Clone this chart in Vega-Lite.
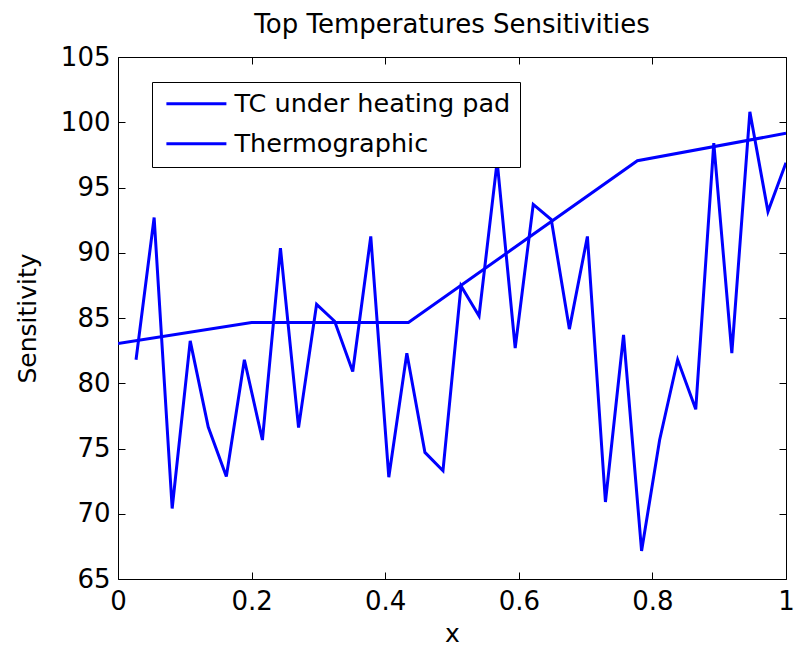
{
  "$schema": "https://vega.github.io/schema/vega-lite/v6.json",
  "autosize": {"type": "none"},
  "padding": {"left": 118, "top": 57, "right": 12, "bottom": 70},
  "width": 668,
  "height": 522,
  "background": "white",
  "title": {"text": "Top Temperatures Sensitivities", "font": "DejaVu Sans", "fontSize": 26, "fontWeight": "normal", "color": "black", "frame": "group", "offset": 6},
  "config": {
    "view": {"stroke": "black", "strokeWidth": 1},
    "axis": {"labelFont": "DejaVu Sans", "titleFont": "DejaVu Sans", "labelFontSize": 26, "titleFontSize": 25, "titleFontWeight": "normal", "labelColor": "black", "titleColor": "black", "tickColor": "black", "tickWidth": 1, "grid": false, "labelFlush": false, "labelOverlap": false, "domain": false, "tickSize": 7, "offset": -7}
  },
  "data": {"values": [
    {"series": "TC under heating pad", "x": 0, "y": 83.05},
    {"series": "TC under heating pad", "x": 0.2, "y": 84.65},
    {"series": "TC under heating pad", "x": 0.4348, "y": 84.65},
    {"series": "TC under heating pad", "x": 0.7775, "y": 97.05},
    {"series": "TC under heating pad", "x": 1, "y": 99.15},
    {"series": "Thermographic", "x": 0.027, "y": 81.8},
    {"series": "Thermographic", "x": 0.0541, "y": 92.7},
    {"series": "Thermographic", "x": 0.0811, "y": 70.4},
    {"series": "Thermographic", "x": 0.1081, "y": 83.25},
    {"series": "Thermographic", "x": 0.1351, "y": 76.65},
    {"series": "Thermographic", "x": 0.1622, "y": 72.85},
    {"series": "Thermographic", "x": 0.1892, "y": 81.8},
    {"series": "Thermographic", "x": 0.2162, "y": 75.65},
    {"series": "Thermographic", "x": 0.2432, "y": 90.35},
    {"series": "Thermographic", "x": 0.2703, "y": 76.6},
    {"series": "Thermographic", "x": 0.2973, "y": 86.05},
    {"series": "Thermographic", "x": 0.3243, "y": 84.75},
    {"series": "Thermographic", "x": 0.3514, "y": 80.9},
    {"series": "Thermographic", "x": 0.3784, "y": 91.25},
    {"series": "Thermographic", "x": 0.4054, "y": 72.8},
    {"series": "Thermographic", "x": 0.4324, "y": 82.3},
    {"series": "Thermographic", "x": 0.4595, "y": 74.7},
    {"series": "Thermographic", "x": 0.4865, "y": 73.3},
    {"series": "Thermographic", "x": 0.5135, "y": 87.45},
    {"series": "Thermographic", "x": 0.5405, "y": 85.15},
    {"series": "Thermographic", "x": 0.5676, "y": 97.0},
    {"series": "Thermographic", "x": 0.5946, "y": 82.7},
    {"series": "Thermographic", "x": 0.6216, "y": 93.7},
    {"series": "Thermographic", "x": 0.6486, "y": 92.55},
    {"series": "Thermographic", "x": 0.6757, "y": 84.15},
    {"series": "Thermographic", "x": 0.7027, "y": 91.25},
    {"series": "Thermographic", "x": 0.7297, "y": 70.9},
    {"series": "Thermographic", "x": 0.7568, "y": 83.7},
    {"series": "Thermographic", "x": 0.7838, "y": 67.15},
    {"series": "Thermographic", "x": 0.8108, "y": 75.65},
    {"series": "Thermographic", "x": 0.8378, "y": 81.8},
    {"series": "Thermographic", "x": 0.8649, "y": 78.0},
    {"series": "Thermographic", "x": 0.8919, "y": 98.4},
    {"series": "Thermographic", "x": 0.9189, "y": 82.3},
    {"series": "Thermographic", "x": 0.9459, "y": 100.8},
    {"series": "Thermographic", "x": 0.973, "y": 93.15},
    {"series": "Thermographic", "x": 1.0, "y": 96.9}
  ]},
  "layer": [
    {
      "mark": {"type": "line", "strokeWidth": 3, "clip": true},
      "encoding": {
        "x": {"field": "x", "type": "quantitative", "scale": {"domain": [0, 1], "nice": false, "zero": false}, "axis": {"orient": "bottom", "title": "x", "values": [0, 0.2, 0.4, 0.6, 0.8, 1], "format": "~g", "labelPadding": 9, "titlePadding": 7}},
        "y": {"field": "y", "type": "quantitative", "scale": {"domain": [65, 105], "nice": false, "zero": false}, "axis": {"orient": "left", "title": "Sensitivity", "values": [65, 70, 75, 80, 85, 90, 95, 100, 105], "labelPadding": 8, "titlePadding": 20}},
        "color": {"field": "series", "type": "nominal", "scale": {"domain": ["TC under heating pad", "Thermographic"], "range": ["#0000ff", "#0000ff"]},
          "legend": {"title": null, "orient": "none", "legendX": 34, "legendY": 25, "zindex": 1, "fillColor": "white", "strokeColor": "black", "padding": 9, "rowPadding": 13, "labelFontSize": 25.5, "labelLimit": 500, "labelColor": "black", "labelFont": "DejaVu Sans", "symbolType": "M-0.735,0L5.265,0", "symbolSize": 400, "symbolStrokeWidth": 3, "labelOffset": 48}}
      }
    },
    {
      "mark": {"type": "point", "opacity": 0},
      "encoding": {
        "x": {"field": "x", "type": "quantitative", "axis": {"orient": "top", "title": null, "labels": false, "values": [0, 0.2, 0.4, 0.6, 0.8, 1]}},
        "y": {"field": "y", "type": "quantitative", "axis": {"orient": "right", "title": null, "labels": false, "values": [65, 70, 75, 80, 85, 90, 95, 100, 105]}}
      }
    }
  ],
  "resolve": {"axis": {"x": "independent", "y": "independent"}}
}
